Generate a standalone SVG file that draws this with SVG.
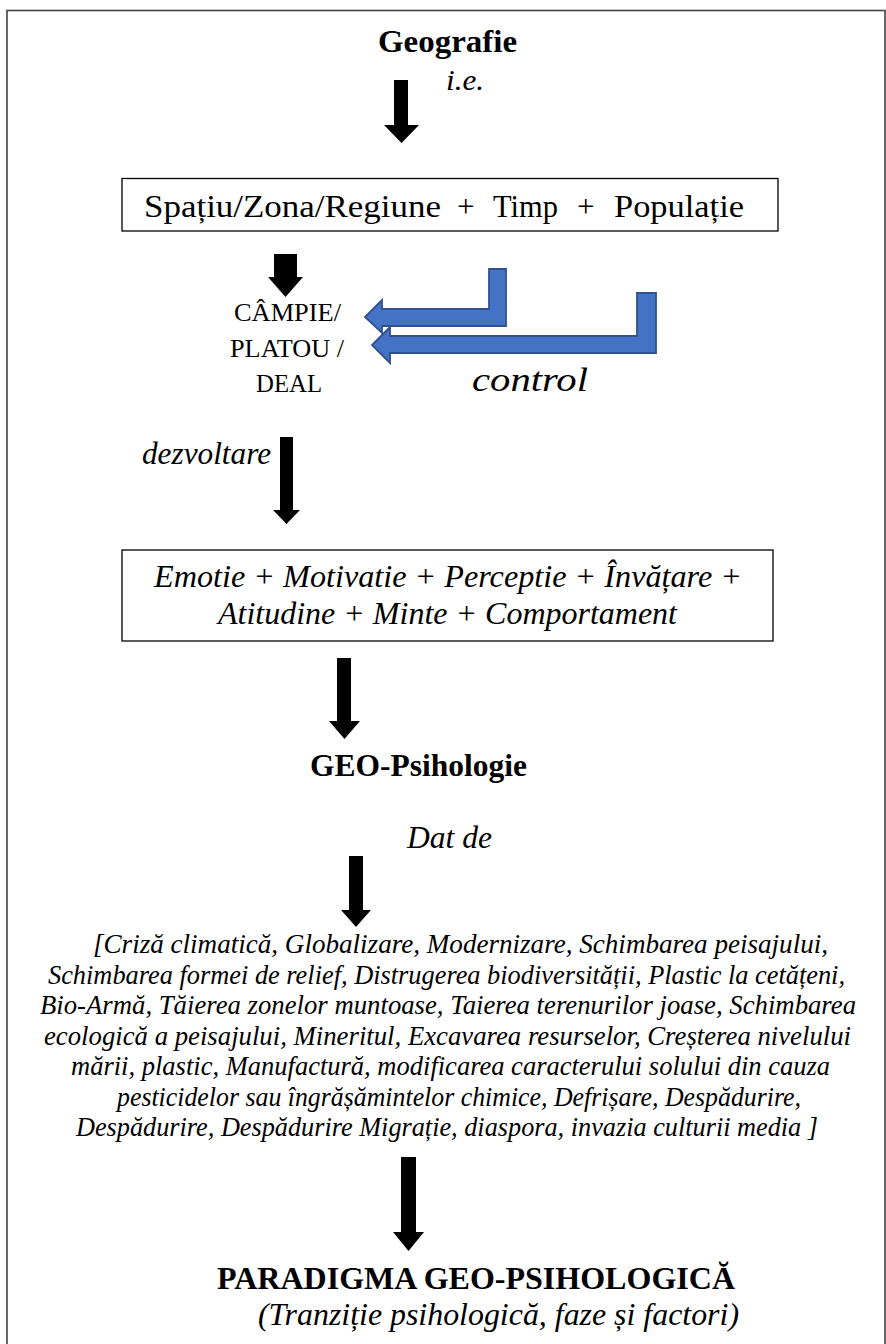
<svg xmlns="http://www.w3.org/2000/svg" width="886" height="1344" viewBox="0 0 886 1344">
<style>
text{font-family:"Liberation Serif","Times New Roman",serif;fill:#000}
.b{font-weight:bold}
.i{font-style:italic}
.box{fill:#fff;stroke:#000;stroke-width:1.3}
.blk{fill:#000}
.blue{fill:#4472C4;stroke:#2F528F;stroke-width:1.8;stroke-linejoin:miter}
</style>
<rect x="7" y="10.5" width="878" height="1350" fill="#fff" stroke="#444" stroke-width="1.6"/>
<g id="n-geografie"><text class="b" x="378" y="52" font-size="32" textLength="139" lengthAdjust="spacingAndGlyphs">Geografie</text></g>
<g id="n-ie"><text class="i" x="446" y="90" font-size="29" textLength="38" lengthAdjust="spacingAndGlyphs">i.e.</text></g>
<g id="n-spatiu"><rect class="box" x="122" y="178.5" width="656" height="52.5"/>
<text x="144" y="217" font-size="31" textLength="297" lengthAdjust="spacingAndGlyphs">Spațiu/Zona/Regiune</text>
<text x="457" y="217" font-size="31">+</text>
<text x="493" y="217" font-size="31" textLength="65" lengthAdjust="spacingAndGlyphs">Timp</text>
<text x="577" y="217" font-size="31">+</text>
<text x="614" y="217" font-size="31" textLength="130" lengthAdjust="spacingAndGlyphs">Populație</text>
</g>
<g id="n-campie" font-size="25.5"><text x="234" y="321" textLength="107" lengthAdjust="spacingAndGlyphs">CÂMPIE/</text><text x="230" y="357" textLength="114" lengthAdjust="spacingAndGlyphs">PLATOU /</text><text x="256" y="392" textLength="66" lengthAdjust="spacingAndGlyphs">DEAL</text></g>
<g id="n-control"><text class="i" x="472" y="391" font-size="33" textLength="116" lengthAdjust="spacingAndGlyphs">control</text></g>
<g id="n-dezvoltare"><text class="i" x="142" y="464" font-size="31" textLength="129" lengthAdjust="spacingAndGlyphs">dezvoltare</text></g>
<g id="n-emotie"><rect class="box" x="122" y="550" width="651" height="91"/><text class="i" x="154" y="587" font-size="32" textLength="588" lengthAdjust="spacingAndGlyphs">Emotie + Motivatie + Perceptie + Învățare +</text><text class="i" x="218" y="624" font-size="32" textLength="459" lengthAdjust="spacingAndGlyphs">Atitudine + Minte + Comportament</text></g>
<g id="n-geopsih"><text class="b" x="310" y="776" font-size="31.5" textLength="217" lengthAdjust="spacingAndGlyphs">GEO-Psihologie</text></g>
<g id="n-datde"><text class="i" x="407" y="848" font-size="31.5" textLength="85" lengthAdjust="spacingAndGlyphs">Dat de</text></g>
<g id="n-factori" font-size="26.5">
<text class="i" x="93" y="953" textLength="735" lengthAdjust="spacingAndGlyphs">[Criză climatică, Globalizare, Modernizare, Schimbarea peisajului,</text>
<text class="i" x="48" y="983.5" textLength="797" lengthAdjust="spacingAndGlyphs">Schimbarea formei de relief, Distrugerea biodiversității, Plastic la cetățeni,</text>
<text class="i" x="40" y="1014" textLength="816" lengthAdjust="spacingAndGlyphs">Bio-Armă, Tăierea zonelor muntoase, Taierea terenurilor joase, Schimbarea</text>
<text class="i" x="44" y="1044.5" textLength="807" lengthAdjust="spacingAndGlyphs">ecologică a peisajului, Mineritul, Excavarea resurselor, Creșterea nivelului</text>
<text class="i" x="71" y="1075" textLength="759" lengthAdjust="spacingAndGlyphs">mării, plastic, Manufactură, modificarea caracterului solului din cauza</text>
<text class="i" x="117" y="1105.5" textLength="684" lengthAdjust="spacingAndGlyphs">pesticidelor sau îngrășămintelor chimice, Defrișare, Despădurire,</text>
<text class="i" x="76" y="1136" textLength="742" lengthAdjust="spacingAndGlyphs">Despădurire, Despădurire Migrație, diaspora, invazia culturii media ]</text>
</g>
<g id="n-paradigma"><text class="b" x="217" y="1289" font-size="32" textLength="518" lengthAdjust="spacingAndGlyphs">PARADIGMA GEO-PSIHOLOGICĂ</text><text class="i" x="258" y="1325" font-size="32" textLength="481" lengthAdjust="spacingAndGlyphs">(Tranziție psihologică, faze și factori)</text></g>
<g id="connectors">
<polygon class="blk" points="394,80 408,80 408,125 419,125 401.5,143 384,125 394,125"/>
<polygon class="blk" points="274,254 297,254 297,277 303,277 285.5,297 268,277 274,277"/>
<polygon class="blk" points="280,437 293,437 293,510 300,510 286.5,524 273,510 280,510"/>
<polygon class="blk" points="337,658 351,658 351,721 360,721 344.5,739 329,721 337,721"/>
<polygon class="blk" points="349,856 363,856 363,910 371,910 356,927 341,910 349,910"/>
<polygon class="blk" points="401,1157 416,1157 416,1232 424,1232 408.5,1251 393,1232 401,1232"/>
<polygon class="blue" points="489,269 506,269 506,326 382,326 382,333 365,317 382,300 382,309 489,309"/>
<polygon class="blue" points="637,293 656,293 656,353 390,353 390,363 372,345 390,327 390,336 637,336"/>
</g>
</svg>
